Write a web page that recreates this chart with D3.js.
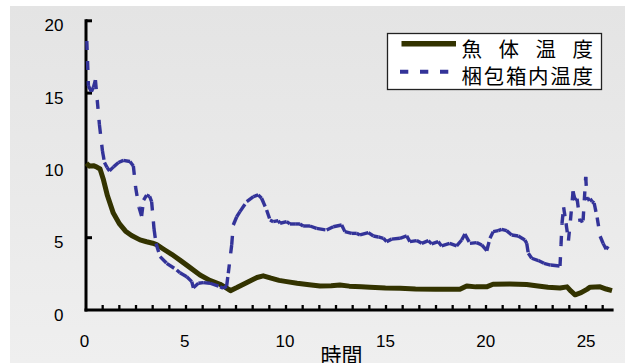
<!DOCTYPE html>
<html>
<head>
<meta charset="utf-8">
<script src="https://cdn.jsdelivr.net/npm/d3@7"></script>
<style>
  html, body { margin: 0; padding: 0; background: #ffffff; }
  svg { display: block; }
</style>
</head>
<body>
<svg id="chart" width="625" height="363"></svg>
<script>
// Elapsed time (h) and fish body temperature (°C)
const fishTime = [0.10, 0.25, 0.45, 0.60, 0.78, 0.95, 1.15, 1.44, 1.75, 2.05, 2.35, 2.77, 3.10, 3.40, 3.60,
  3.95, 4.35, 4.76, 5.20, 5.76, 6.25, 6.76, 7.05, 7.28, 7.60, 8.10, 8.60, 8.91, 9.30, 9.70, 10.08, 10.60,
  11.20, 11.74, 12.30, 12.73, 13.20, 13.80, 14.23, 15.00, 15.73, 16.50, 17.50, 18.71, 19.05, 19.50, 20.04,
  20.36, 21.20, 22.04, 22.60, 23.10, 23.70, 24.05, 24.25, 24.45, 24.75, 25.04, 25.20, 25.70, 26.00, 26.29];
const fishTemp = [10.15, 9.95, 9.98, 9.90, 9.75, 9.00, 7.90, 6.70, 5.95, 5.45, 5.15, 4.85, 4.72, 4.62, 4.52,
  4.20, 3.85, 3.45, 3.00, 2.42, 2.05, 1.78, 1.55, 1.34, 1.55, 1.90, 2.25, 2.36, 2.20, 2.05, 1.96, 1.85,
  1.75, 1.66, 1.67, 1.73, 1.65, 1.60, 1.57, 1.52, 1.50, 1.45, 1.43, 1.43, 1.66, 1.60, 1.60,
  1.78, 1.80, 1.76, 1.66, 1.57, 1.52, 1.60, 1.30, 1.05, 1.20, 1.43, 1.58, 1.60, 1.45, 1.34];

// Elapsed time (h) and temperature inside the packing box (°C)
const boxTime = [0.12, 0.20, 0.35, 0.45, 0.55, 0.75, 0.90, 1.00, 1.13, 1.25, 1.45, 1.70, 1.94, 2.27, 2.44,
  2.55, 2.72, 2.85, 2.95, 3.10, 3.25, 3.35, 3.47, 3.57, 3.77, 4.10, 4.60, 4.76, 5.10, 5.35, 5.43, 5.68,
  5.92, 6.26, 6.76, 6.92, 7.09, 7.17, 7.34, 7.42, 7.59, 7.75, 8.09, 8.42, 8.66, 8.83, 9.08, 9.25, 9.41,
  9.66, 9.75, 10.08, 10.24, 10.50, 10.74, 10.90, 11.24, 11.57, 12.07, 12.40, 12.82, 12.98, 13.32, 13.57,
  13.73, 14.15, 14.40, 14.65, 14.90, 15.06, 15.31, 15.72, 16.06, 16.22, 16.56, 16.81, 17.14, 17.30, 17.63,
  17.80, 18.20, 18.55, 18.80, 18.96, 19.21, 19.55, 19.80, 20.05, 20.21, 20.37, 20.62, 20.79, 21.04, 21.29,
  21.62, 21.95, 22.04, 22.12, 22.29, 22.62, 22.90, 23.23, 23.70, 23.75, 23.80, 23.88, 24.00, 24.12, 24.22,
  24.35, 24.45, 24.55, 24.70, 24.85, 24.98, 25.05, 25.20, 25.30, 25.40, 25.55, 25.70, 25.85, 26.00, 26.10];
const boxTemp = [18.6, 15.5, 15.1, 15.4, 15.9, 12.8, 11.0, 10.2, 9.85, 9.62, 9.90, 10.2, 10.35, 10.27, 9.96,
  8.50, 7.10, 6.50, 7.60, 7.95, 7.85, 7.50, 5.60, 4.60, 3.69, 3.23, 2.77, 2.58, 2.30, 1.96, 1.54, 1.85,
  1.89, 1.85, 1.61, 1.50, 1.66, 2.54, 4.50, 5.88, 6.45, 6.80, 7.50, 7.84, 7.96, 7.73, 6.92, 6.23, 6.11,
  6.18, 6.00, 6.11, 5.95, 5.95, 5.95, 5.81, 5.81, 5.65, 5.53, 5.76, 5.88, 5.42, 5.30, 5.30,
  5.19, 5.35, 5.12, 5.05, 4.96, 4.73, 4.90, 4.96, 5.12, 4.73, 4.80, 4.61, 4.80, 4.57, 4.73,
  4.43, 4.61, 4.43, 4.84, 5.26, 4.61, 4.66, 4.50, 4.10, 4.96, 5.42, 5.49, 5.58, 5.49, 5.19,
  5.12, 4.84, 4.61, 3.92, 3.58, 3.42, 3.23, 3.11, 3.04, 4.50, 6.00, 7.10, 6.00, 4.80, 6.20,
  8.20, 7.60, 7.70, 6.10, 6.20, 9.20, 7.60, 7.70, 7.50, 7.40, 6.40, 5.10, 4.60, 4.20, 4.40];

const seriesNames = ["魚 体 温 度", "梱包箱内温度"];
const xTickLabels = [0, 5, 10, 15, 20, 25];
const yTickLabels = [0, 5, 10, 15, 20];
const xAxisTitle = "時間";

const svg = d3.select("#chart");
const W = 625, H = 363;

// Panel background with a soft vertical gradient
const defs = svg.append("defs");
const grad = defs.append("linearGradient").attr("id", "bg").attr("x1", 0).attr("y1", 0).attr("x2", 0).attr("y2", 1);
grad.append("stop").attr("offset", "0%").attr("stop-color", "#e4e4e4");
grad.append("stop").attr("offset", "100%").attr("stop-color", "#efefef");
svg.append("rect").attr("x", 10).attr("y", 6).attr("width", W - 10).attr("height", H - 6).attr("fill", "url(#bg)");

const x = d3.scaleLinear().domain([0, 26.4]).range([84.4, 614.2]);
const y = d3.scaleLinear().domain([0, 20]).range([310, 20.8]);

const axisFont = "'Liberation Sans', Arial, sans-serif";
const cjkFont = "'Noto Sans CJK JP', 'Noto Sans CJK SC', sans-serif";

// Axes
const axisG = svg.append("g");
const xStart = x(0.08), xEnd = x(26.37);
// minor ticks along the time axis, every 50 minutes
const minorTicks = d3.range(1, 32).map(k => 0.08 + k * 0.8305);
axisG.selectAll("line.mt").data(minorTicks).join("line")
  .attr("x1", d => x(d)).attr("x2", d => x(d))
  .attr("y1", y(0) - 5).attr("y2", y(0))
  .attr("stroke", "#000").attr("stroke-width", 2.3);
axisG.selectAll("line.yt").data([5, 10, 15, 20]).join("line")
  .attr("x1", xStart).attr("x2", xStart + 6)
  .attr("y1", d => y(d)).attr("y2", d => y(d))
  .attr("stroke", "#000").attr("stroke-width", 3);
axisG.append("line").attr("x1", xStart).attr("x2", xStart).attr("y1", y(20) - 1.5).attr("y2", y(0) + 1.5)
  .attr("stroke", "#000").attr("stroke-width", 3);
axisG.append("line").attr("x1", xStart - 1.5).attr("x2", xEnd).attr("y1", y(0)).attr("y2", y(0))
  .attr("stroke", "#000").attr("stroke-width", 3);

axisG.selectAll("text.yl").data(yTickLabels).join("text")
  .attr("x", 63.5).attr("y", d => y(d) + 10.5)
  .attr("text-anchor", "end").attr("font-family", axisFont).attr("font-size", 17).attr("fill", "#000")
  .text(d => d);
axisG.selectAll("text.xl").data(xTickLabels).join("text")
  .attr("x", d => x(d)).attr("y", 346.5)
  .attr("text-anchor", "middle").attr("font-family", axisFont).attr("font-size", 17).attr("fill", "#000")
  .text(d => d);
axisG.append("text").attr("x", 341.5).attr("y", 362.5).attr("text-anchor", "middle")
  .attr("font-family", cjkFont).attr("font-size", 21).attr("fill", "#000").text(xAxisTitle);

// Fish body temperature: thick olive line
const fishPts = fishTime.map((t, i) => [t, fishTemp[i]]);
svg.append("path").datum(fishPts)
  .attr("d", d3.line().x(d => x(d[0])).y(d => y(d[1])))
  .attr("fill", "none").attr("stroke", "#333300").attr("stroke-width", 5)
  .attr("stroke-linejoin", "round");

// Box temperature: dashed blue line, the dash pattern restarting on every segment
const boxPts = boxTime.map((t, i) => [t, boxTemp[i]]);
const segs = d3.pairs(boxPts);
svg.append("g").selectAll("line").data(segs).join("line")
  .attr("x1", d => x(d[0][0])).attr("y1", d => y(d[0][1]))
  .attr("x2", d => x(d[1][0])).attr("y2", d => y(d[1][1]))
  .attr("stroke", "#333399").attr("stroke-width", 3.4)
  .attr("stroke-dasharray", "9,11").attr("stroke-linecap", "butt");

// Legend
const lg = svg.append("g");
lg.append("rect").attr("x", 387.5).attr("y", 33.5).attr("width", 214).attr("height", 56)
  .attr("fill", "#ffffff").attr("stroke", "#222").attr("stroke-width", 1.3);
lg.append("line").attr("x1", 401.5).attr("x2", 456).attr("y1", 43.8).attr("y2", 43.8)
  .attr("stroke", "#333300").attr("stroke-width", 5.5);
lg.append("line").attr("x1", 400).attr("x2", 448.5).attr("y1", 71.7).attr("y2", 71.7)
  .attr("stroke", "#333399").attr("stroke-width", 4).attr("stroke-dasharray", "8.3,11.7");
lg.selectAll("text").data(seriesNames).join("text")
  .attr("x", 461.5).attr("y", (d, i) => 56.5 + i * 27.5)
  .attr("font-family", cjkFont).attr("font-size", 20.5).attr("fill", "#000")
  .attr("textLength", 131.5).attr("lengthAdjust", "spacing")
  .text(d => d);
</script>
</body>
</html>
